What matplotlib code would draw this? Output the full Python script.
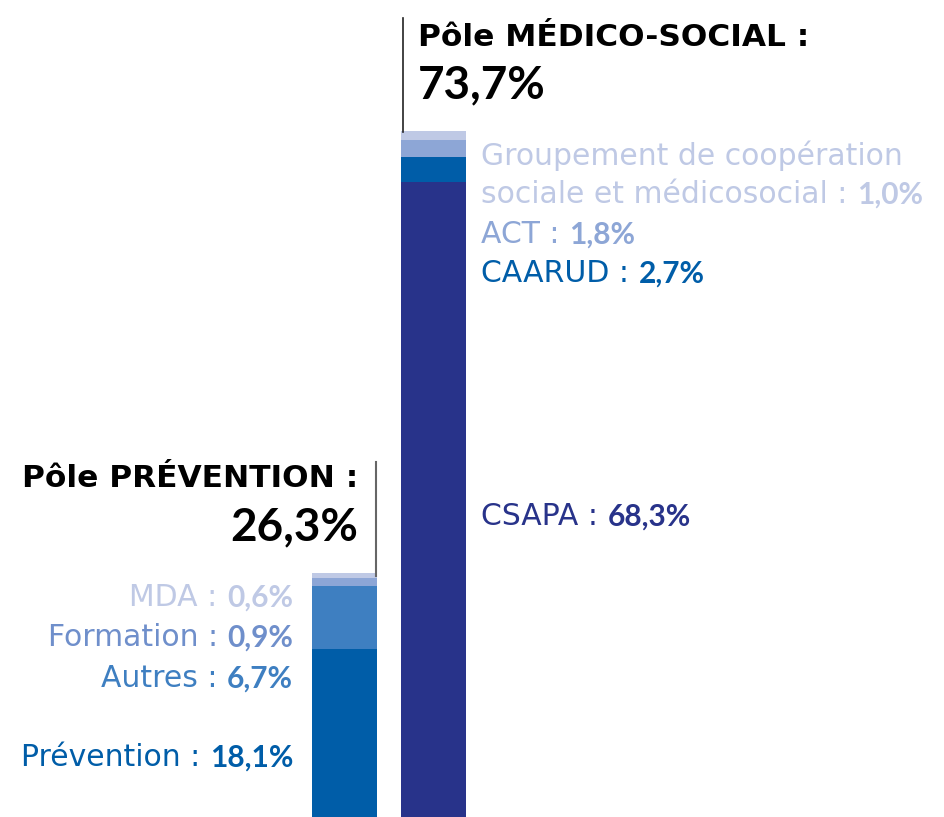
import matplotlib.pyplot as plt

plt.rcParams['font.family'] = ['DejaVu Sans']

# Data
poles = ["Pôle PRÉVENTION", "Pôle MÉDICO-SOCIAL"]
pole_totals = ["26,3%", "73,7%"]

prev_labels = ["Prévention", "Autres", "Formation", "MDA"]
prev_values = [18.1, 6.7, 0.9, 0.6]
prev_colors = ["#005DA8", "#3E7FC1", "#8DA6D6", "#BFC9E5"]
prev_text_colors = ["#005DA8", "#3E7FC1", "#6F8FCB", "#BFC9E5"]

med_labels = ["CSAPA", "CAARUD", "ACT", "Groupement de coopération\nsociale et médicosocial"]
med_values = [68.3, 2.7, 1.8, 1.0]
med_colors = ["#28338A", "#005DA8", "#8DA6D6", "#BFC9E5"]
med_text_colors = ["#28338A", "#005DA8", "#8DA6D6", "#BFC9E5"]

W, H = 945, 817
fig = plt.figure(figsize=(W / 100, H / 100), dpi=100)
ax = fig.add_axes([0, 0, 1, 1])
ax.axis('off')

# bars at x = 0 and 1; 89 px between centres
ppu = 89.0
ax.set_xlim(-344.5 / ppu, (W - 344.5) / ppu)
ax.set_ylim(0, H / 9.295)
width = 65 / ppu

bottom = 0
for v, c in zip(prev_values, prev_colors):
    ax.bar(0, v, width, bottom=bottom, color=c, linewidth=0)
    bottom += v
bottom = 0
for v, c in zip(med_values, med_colors):
    ax.bar(1, v, width, bottom=bottom, color=c, linewidth=0)
    bottom += v


def fx(x):
    return x / W


def fy(y):
    return 1 - y / H


def fmt(v):
    return f"{v:.1f}".replace('.', ',') + "%"


FS = 21.5     # regular label text
FSB = 21.5    # bold values
BOLD = ['Lato', 'DejaVu Sans']

# left bar labels, right aligned
prev_y = [767, 688, 647, 607]
for lab, v, c, y in zip(prev_labels, prev_values, prev_text_colors, prev_y):
    t = fig.text(fx(293), fy(y), fmt(v), ha='right', va='baseline',
                 fontsize=FSB, fontweight='bold', color=c, family=BOLD)
    ax.annotate(lab + " : ", xy=(0, 0), xycoords=t, ha='right', va='bottom',
                fontsize=FS, color=c, annotation_clip=False)

# right bar labels, left aligned
med_y = [525, 282, 243, 203]
for lab, v, c, y in zip(med_labels, med_values, med_text_colors, med_y):
    lines = lab.split("\n")
    if len(lines) > 1:
        fig.text(fx(481), fy(y - 38), lines[0], ha='left', va='baseline',
                 fontsize=FS, color=c)
    t = fig.text(fx(481), fy(y), lines[-1] + " : ", ha='left', va='baseline',
                 fontsize=FS, color=c)
    ax.annotate(fmt(v), xy=(1, 0), xycoords=t, ha='left', va='bottom',
                fontsize=FSB, fontweight='bold', color=c, family=BOLD,
                annotation_clip=False)

# pole titles
fig.text(fx(358), fy(487), poles[0] + " :", ha='right', va='baseline',
         fontsize=22.5, fontweight='bold', color='black')
fig.text(fx(358), fy(540), pole_totals[0], ha='right', va='baseline',
         fontsize=33, fontweight='bold', color='black', family=BOLD)
fig.text(fx(418), fy(46), poles[1] + " :", ha='left', va='baseline',
         fontsize=22.5, fontweight='bold', color='black')
fig.text(fx(418), fy(98), pole_totals[1], ha='left', va='baseline',
         fontsize=33, fontweight='bold', color='black', family=BOLD)

# leader lines
fig.add_artist(plt.Line2D([fx(376), fx(376)], [fy(462), fy(576)], color='#666666', lw=1.5))
fig.add_artist(plt.Line2D([fx(403), fx(403)], [fy(18), fy(132)], color='#222222', lw=1.2))

fig.savefig("out.png", dpi=100)
